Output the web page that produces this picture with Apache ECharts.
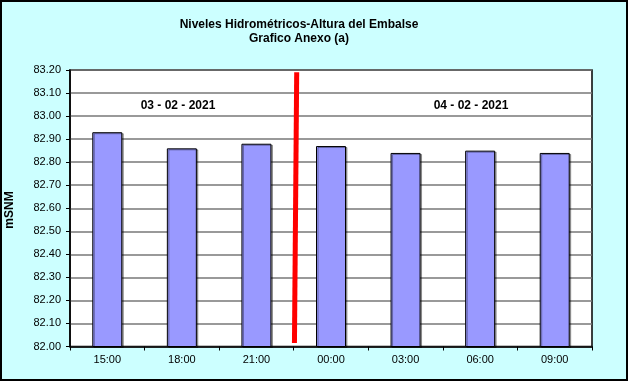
<!DOCTYPE html>
<html>
<head>
<meta charset="utf-8">
<script src="https://cdn.jsdelivr.net/npm/echarts@6/dist/echarts.min.js"></script>
<style>
html,body{margin:0;padding:0;background:#fff;}
#chart{width:631px;height:384px;}
</style>
</head>
<body>
<div id="chart"></div>
<script>
const categories = ['15:00', '18:00', '21:00', '00:00', '03:00', '06:00', '09:00'];
const levels = [82.93, 82.86, 82.88, 82.87, 82.84, 82.85, 82.84];
const dividerX = [3.04, 3.01];
const dividerY = [83.19, 82.015];
const dateLabels = ['03 - 02 - 2021', '04 - 02 - 2021'];
const titleLines = ['Niveles Hidrométricos-Altura del Embalse', 'Grafico Anexo (a)'];
const yName = 'mSNM';

const font = 'Arial, "Liberation Sans", sans-serif';
const chart = echarts.init(document.getElementById('chart'), null, {renderer: 'canvas'});

chart.setOption({
  backgroundColor: '#ffffff',
  animation: false,
  graphic: [
    {type: 'rect', z: -10, silent: true, shape: {x: 1, y: 1, width: 626, height: 379},
     style: {fill: '#CCFFFF', stroke: '#000', lineWidth: 2}},
    {type: 'text', x: 299, y: 25, style: {text: titleLines[0], font: 'bold 12px ' + font, fill: '#000', textAlign: 'center', textVerticalAlign: 'middle'}},
    {type: 'text', x: 299, y: 39, style: {text: titleLines[1], font: 'bold 12px ' + font, fill: '#000', textAlign: 'center', textVerticalAlign: 'middle'}},
    {type: 'text', x: 178, y: 106, z: 10, style: {text: dateLabels[0], font: 'bold 12px ' + font, fill: '#000', textAlign: 'center', textVerticalAlign: 'middle'}},
    {type: 'text', x: 471, y: 106, z: 10, style: {text: dateLabels[1], font: 'bold 12px ' + font, fill: '#000', textAlign: 'center', textVerticalAlign: 'middle'}},
    {type: 'text', x: 10, y: 210, rotation: Math.PI / 2, style: {text: yName, font: 'bold 12px ' + font, fill: '#000', textAlign: 'center', textVerticalAlign: 'middle'}}
  ],
  grid: {left: 70, top: 70, right: 39, bottom: 37.5, show: true, backgroundColor: '#ffffff', borderColor: '#000', borderWidth: 1.5},
  xAxis: [
    {type: 'category', data: categories, boundaryGap: true,
     axisLine: {lineStyle: {color: '#000', width: 1.5}},
     axisTick: {show: true, inside: false, length: 4, alignWithLabel: false, lineStyle: {color: '#000'}},
     axisLabel: {color: '#000', fontFamily: font, fontSize: 11, margin: 8},
     splitLine: {show: false}},
    {type: 'value', min: 0, max: 7, show: false}
  ],
  yAxis: {
    type: 'value', min: 82.0, max: 83.2, interval: 0.1,
    axisLine: {show: true, lineStyle: {color: '#000', width: 1.5}},
    axisTick: {show: true, inside: false, length: 4, lineStyle: {color: '#000'}},
    axisLabel: {color: '#000', fontFamily: font, fontSize: 11, margin: 9, formatter: v => v.toFixed(2)},
    splitLine: {show: true, lineStyle: {color: '#777', width: 1.5}}
  },
  series: [
    {type: 'bar', data: levels, barWidth: 30, xAxisIndex: 0,
     itemStyle: {color: '#9999FF', borderColor: '#000', borderWidth: 1, shadowColor: 'rgba(0,0,0,0.35)', shadowOffsetX: 1.5, shadowOffsetY: 1}},
    {type: 'line', xAxisIndex: 1, data: [[dividerX[0], dividerY[0]], [dividerX[1], dividerY[1]]],
     symbol: 'none', lineStyle: {color: '#FF0000', width: 5, cap: 'butt'}, z: 5}
  ]
});
</script>
</body>
</html>
